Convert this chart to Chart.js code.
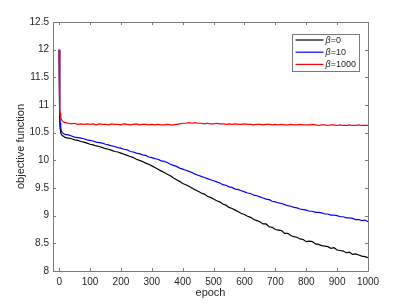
<!DOCTYPE html>
<html>
<head>
<meta charset="utf-8">
<script src="https://cdn.jsdelivr.net/npm/chart.js@4/dist/chart.umd.min.js"></script>
<style>
html,body{margin:0;padding:0;background:#fff;}
canvas{display:block;}
</style>
</head>
<body>
<canvas id="c" width="407" height="305"></canvas>
<script>
const epochs = [0,1,2,3,5,7,10,15,20,
30,40,50,60,70,80,90,100,110,120,130,140,150,160,170,180,190,200,
210,220,230,240,250,260,270,280,290,300,310,320,330,340,350,360,370,380,390,400,
410,420,430,440,450,460,470,480,490,500,510,520,530,540,550,560,570,580,590,600,
610,620,630,640,650,660,670,680,690,700,710,720,730,740,750,760,770,780,790,800,
810,820,830,840,850,860,870,880,890,900,910,920,930,940,950,960,970,980,990,1000];

const beta0 = [12.0,11.3,10.75,10.58,10.5,10.47,10.45,10.43,10.41,
10.40,10.39,10.37,10.36,10.34,10.33,10.31,10.29,10.28,10.26,10.25,10.23,10.21,10.20,10.18,10.16,10.15,10.13,
10.11,10.09,10.07,10.05,10.02,10.00,9.98,9.95,9.93,9.90,9.87,9.84,9.81,9.78,9.75,9.72,9.68,9.65,9.62,9.58,
9.56,9.53,9.50,9.47,9.44,9.41,9.39,9.35,9.33,9.30,9.27,9.25,9.21,9.19,9.15,9.13,9.10,9.07,9.04,9.02,
8.99,8.97,8.93,8.91,8.89,8.85,8.85,8.80,8.79,8.75,8.74,8.73,8.68,8.68,8.64,8.62,8.61,8.58,8.57,8.53,
8.54,8.53,8.49,8.48,8.46,8.45,8.44,8.41,8.42,8.38,8.37,8.36,8.33,8.34,8.30,8.31,8.29,8.27,8.26,8.24];

const beta10 = [12.0,11.1,10.85,10.68,10.58,10.53,10.50,10.48,10.47,
10.46,10.44,10.42,10.41,10.40,10.39,10.37,10.36,10.35,10.33,10.32,10.31,10.29,10.28,10.26,10.25,10.23,10.22,
10.20,10.19,10.16,10.15,10.13,10.12,10.10,10.09,10.06,10.05,10.03,10.02,9.99,9.98,9.96,9.93,9.91,9.89,9.86,9.84,
9.82,9.80,9.78,9.75,9.73,9.71,9.69,9.67,9.65,9.63,9.61,9.59,9.56,9.55,9.52,9.51,9.48,9.47,9.45,9.43,
9.41,9.40,9.37,9.36,9.34,9.32,9.30,9.29,9.26,9.25,9.23,9.22,9.20,9.18,9.17,9.15,9.14,9.12,9.11,9.10,
9.08,9.08,9.06,9.06,9.05,9.03,9.03,9.01,9.01,9.00,8.98,8.98,8.96,8.96,8.95,8.93,8.93,8.91,8.92,8.89];

const beta1000 = [12.0,11.2,10.95,10.85,10.78,10.74,10.71,10.69,10.68,
10.67,10.66,10.67,10.65,10.66,10.65,10.66,10.65,10.66,10.64,10.66,10.65,10.65,10.64,10.66,10.65,10.65,10.64,
10.66,10.65,10.64,10.65,10.66,10.64,10.65,10.65,10.64,10.65,10.64,10.65,10.64,10.64,10.65,10.64,10.64,10.65,10.66,10.67,
10.67,10.68,10.67,10.68,10.67,10.67,10.66,10.67,10.66,10.66,10.67,10.66,10.66,10.65,10.66,10.65,10.66,10.65,10.65,10.66,
10.65,10.65,10.64,10.65,10.65,10.64,10.65,10.65,10.64,10.65,10.64,10.65,10.64,10.64,10.65,10.64,10.64,10.65,10.64,10.64,
10.64,10.65,10.64,10.63,10.64,10.64,10.63,10.64,10.64,10.63,10.64,10.63,10.63,10.64,10.63,10.63,10.64,10.63,10.63,10.63];

const seriesNames = ['0','10','1000'];
const seriesColors = ['#000000','#0000ff','#ff0000'];
const xTicks = [0,100,200,300,400,500,600,700,800,900,1000];
const yTicks = [8,8.5,9,9.5,10,10.5,11,11.5,12,12.5];
const xLabel = 'epoch';
const yLabel = 'objective function';

function pts(vals){ return epochs.map((e,i)=>({x:e,y:vals[i]})); }
const allSeries = [beta0, beta10, beta1000];
const FONT = '"Liberation Sans", Arial, sans-serif';

const boxPlugin = {
  id:'matlabBox',
  afterDatasetsDraw(chart){
    const {ctx, chartArea:a, scales} = chart;
    ctx.save();
    ctx.strokeStyle = '#7a7a7a';
    ctx.lineWidth = 1;
    ctx.beginPath();
    ctx.rect(Math.round(a.left)+0.5, Math.round(a.top)+0.5, Math.round(a.right-a.left), Math.round(a.bottom-a.top));
    ctx.stroke();
    const tl = 3;
    ctx.beginPath();
    xTicks.forEach(v=>{
      const px = Math.round(scales.x.getPixelForValue(v))+0.5;
      ctx.moveTo(px,a.bottom); ctx.lineTo(px,a.bottom-tl);
      ctx.moveTo(px,a.top); ctx.lineTo(px,a.top+tl);
    });
    yTicks.forEach(v=>{
      const py = Math.round(scales.y.getPixelForValue(v))+0.5;
      ctx.moveTo(a.left,py); ctx.lineTo(a.left+tl,py);
      ctx.moveTo(a.right,py); ctx.lineTo(a.right-tl,py);
    });
    ctx.stroke();
    // legend
    const bw = 67, bh = 37;
    const bx = Math.round(a.right - 9 - bw)+0.5, by = Math.round(a.top + 12)+0.5;
    ctx.fillStyle = '#fff';
    ctx.fillRect(bx,by,bw,bh);
    ctx.strokeStyle = '#7a7a7a';
    ctx.strokeRect(bx,by,bw,bh);
    chart.data.datasets.forEach((ds,i)=>{
      const y = by + 5.5 + i*12.2;
      ctx.strokeStyle = ds.borderColor;
      ctx.lineWidth = 1.2;
      ctx.beginPath();
      ctx.moveTo(bx+3, y); ctx.lineTo(bx+31, y);
      ctx.stroke();
      ctx.fillStyle = '#262626';
      ctx.textBaseline = 'middle';
      ctx.font = 'italic 9px ' + FONT;
      ctx.fillText('\u03b2', bx+33, y+0.5);
      const w = ctx.measureText('\u03b2').width;
      ctx.font = '9px ' + FONT;
      ctx.fillText('=' + seriesNames[i], bx+33+w, y+0.5);
    });
    ctx.restore();
  }
};

new Chart(document.getElementById('c'), {
  type:'line',
  data:{
    datasets: allSeries.map((vals,i)=>({
      label:'\u03b2=' + seriesNames[i],
      data: pts(vals),
      borderColor: seriesColors[i],
      backgroundColor: seriesColors[i],
      borderWidth: 1.2,
      pointRadius: 0,
      tension: 0,
      fill: false,
      order: 3 - i
    }))
  },
  options:{
    responsive:false,
    animation:false,
    layout:{padding:{top:22,right:39,left:0,bottom:0}},
    plugins:{legend:{display:false}, tooltip:{enabled:false}},
    scales:{
      x:{
        type:'linear', min:-20, max:1000,
        afterBuildTicks(s){ s.ticks = xTicks.map(v=>({value:v})); },
        afterFit(s){ s.height = 34; },
        grid:{display:false, drawTicks:false}, border:{display:false},
        ticks:{color:'#262626', padding:5, maxRotation:0, callback:v=>String(v), font:{family:FONT, size:10}},
        title:{display:true, text:xLabel, color:'#262626', padding:{top:0,bottom:5}, font:{family:FONT, size:11}}
      },
      y:{
        type:'linear', min:8, max:12.5,
        afterBuildTicks(s){ s.ticks = yTicks.map(v=>({value:v})); },
        afterFit(s){ s.width = 53; },
        grid:{display:false, drawTicks:false}, border:{display:false},
        ticks:{color:'#262626', padding:4, callback:v=>String(v), font:{family:FONT, size:10}},
        title:{display:true, text:yLabel, color:'#262626', padding:{top:14,bottom:0}, font:{family:FONT, size:11}}
      }
    }
  },
  plugins:[boxPlugin]
});
</script>
</body>
</html>
